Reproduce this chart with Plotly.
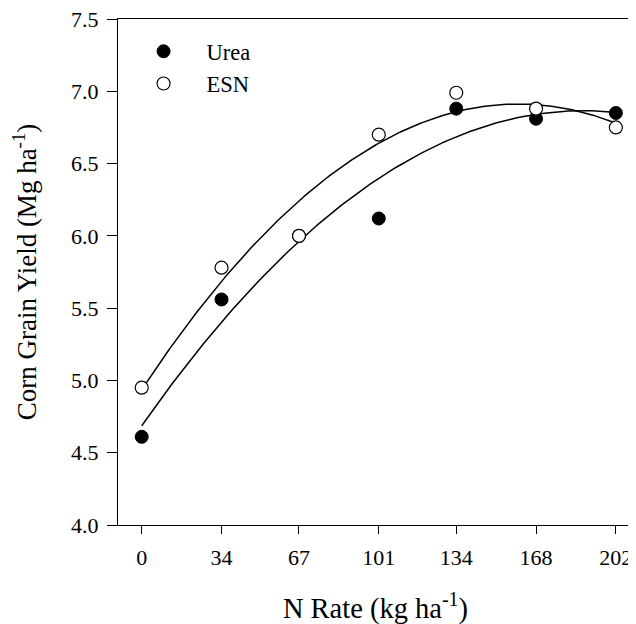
import numpy as np
import plotly.graph_objects as go

n_rate = [0, 34, 67, 101, 134, 168, 202]
urea = [4.61, 5.56, 6.00, 6.12, 6.88, 6.81, 6.85]
esn = [4.95, 5.78, 6.00, 6.70, 6.99, 6.88, 6.75]
x_ticks = [0, 34, 67, 101, 134, 168, 202]
y_ticks = [4.0, 4.5, 5.0, 5.5, 6.0, 6.5, 7.0, 7.5]

FONT = "Liberation Serif, Times New Roman, serif"

xs = np.linspace(min(n_rate), max(n_rate), 200)
fit_urea = np.polyval(np.polyfit(n_rate, urea, 2), xs)
fit_esn = np.polyval(np.polyfit(n_rate, esn, 2), xs)

fig = go.Figure()
fig.add_trace(go.Scatter(x=xs, y=fit_urea, mode="lines", line=dict(color="black", width=1.5),
                         showlegend=False, hoverinfo="skip"))
fig.add_trace(go.Scatter(x=xs, y=fit_esn, mode="lines", line=dict(color="black", width=1.5),
                         showlegend=False, hoverinfo="skip"))
fig.add_trace(go.Scatter(x=n_rate, y=urea, mode="markers", name="Urea",
                         marker=dict(symbol="circle", size=13, color="black",
                                     line=dict(color="black", width=1))))
fig.add_trace(go.Scatter(x=n_rate, y=esn, mode="markers", name="ESN",
                         marker=dict(symbol="circle", size=13, color="white",
                                     line=dict(color="black", width=1.2))))

fig.update_layout(
    width=636, height=624,
    margin=dict(l=110, r=11, t=11, b=107),
    paper_bgcolor="white", plot_bgcolor="white",
    font=dict(family=FONT, color="black", size=22),
    legend=dict(x=0.005, y=0.978, xanchor="left", yanchor="top",
                font=dict(family=FONT, size=22.5), itemwidth=76,
                bgcolor="rgba(0,0,0,0)", borderwidth=0),
    xaxis=dict(range=[-10.1, 209.3], tickvals=x_ticks, ticktext=[str(v) for v in x_ticks],
               showgrid=False, zeroline=False, showline=True, linecolor="black", linewidth=1,
               mirror=True, ticks="outside", ticklen=8, tickwidth=1, tickcolor="black",
               tickfont=dict(family=FONT, size=22), ticklabelstandoff=5, ticklabeloverflow="allow",
               automargin=False,
               title=dict(text="N Rate (kg ha<sup>-1</sup>)", font=dict(family=FONT, size=28.5), standoff=28)),
    yaxis=dict(range=[4.0, 7.5], tickvals=y_ticks, ticktext=[f"{v:.1f}" for v in y_ticks],
               showgrid=False, zeroline=False, showline=True, linecolor="black", linewidth=1,
               mirror=True, ticks="outside", ticklen=10, tickwidth=1, tickcolor="black",
               tickfont=dict(family=FONT, size=22), ticklabelstandoff=4, ticklabeloverflow="allow",
               automargin=False,
               title=dict(text="Corn Grain Yield (Mg ha<sup>-1</sup>)", font=dict(family=FONT, size=27), standoff=27)),
)

fig.write_html("out.html")
